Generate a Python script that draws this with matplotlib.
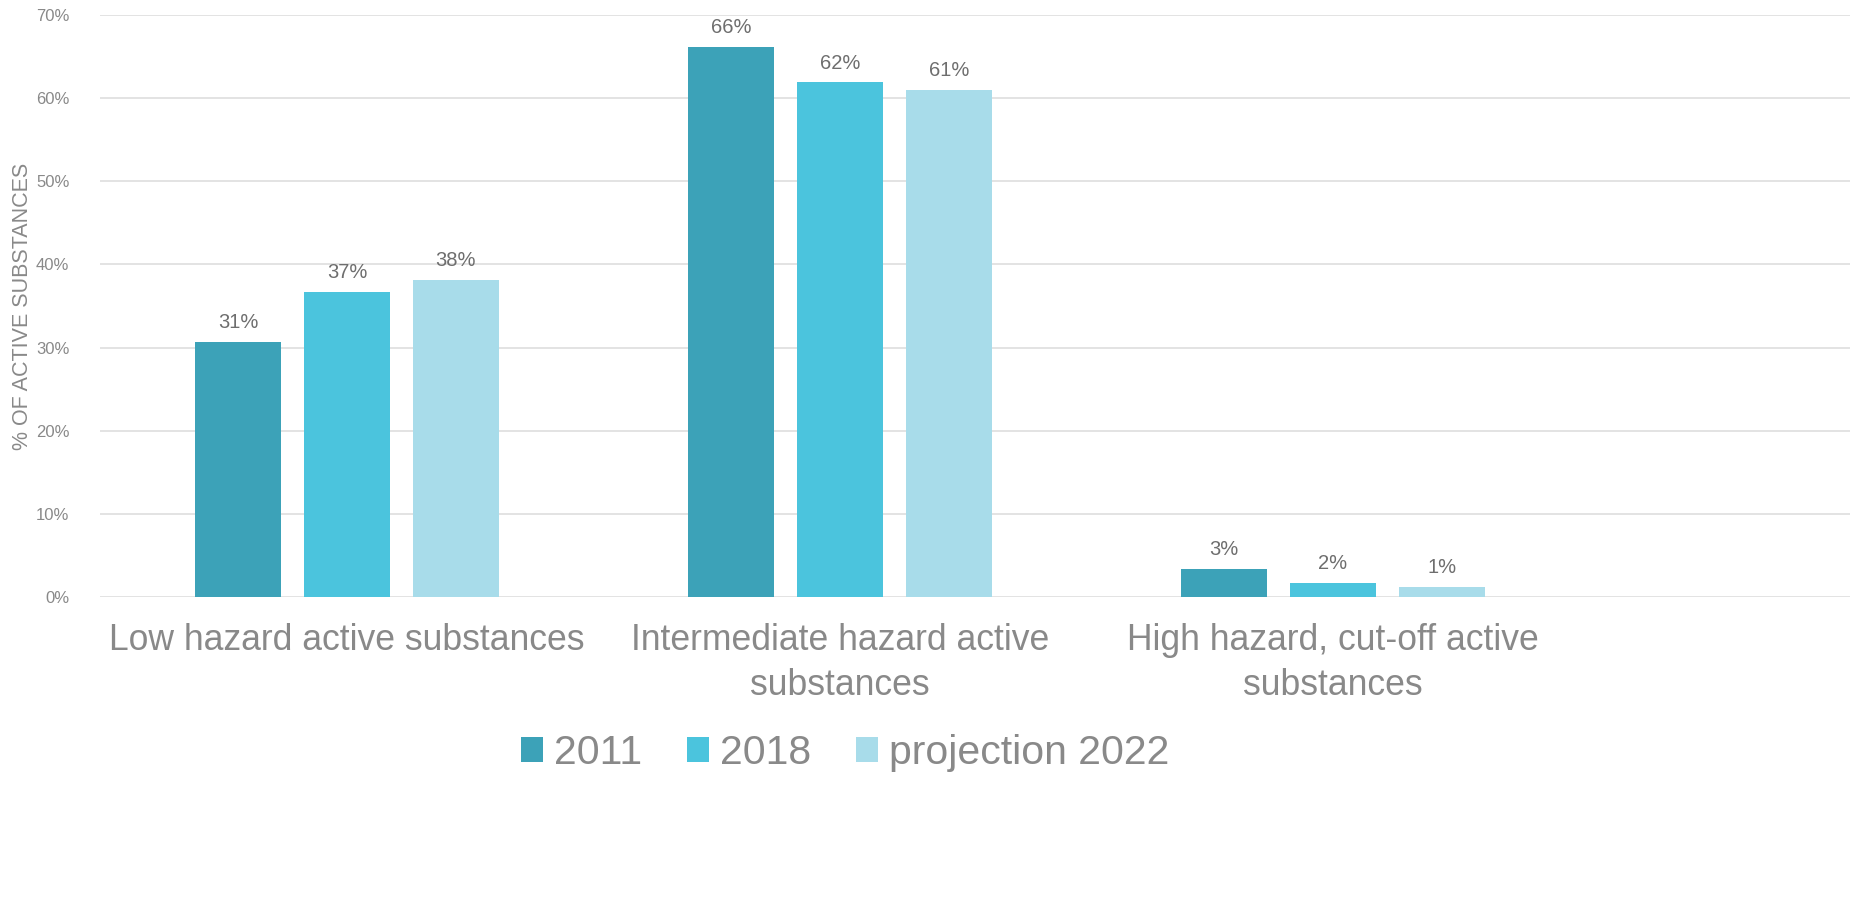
import numpy as np
import matplotlib
matplotlib.use("Agg")
import matplotlib.pyplot as plt

# values (share of active substances)
categories = ["Low hazard active substances",
              "Intermediate hazard active\nsubstances",
              "High hazard, cut-off active\nsubstances"]
series_names = ["2011", "2018", "projection 2022"]
vals_2011 = [0.307, 0.662, 0.034]
vals_2018 = [0.367, 0.619, 0.017]
vals_2022 = [0.381, 0.610, 0.012]
labels_2011 = ["31%", "66%", "3%"]
labels_2018 = ["37%", "62%", "2%"]
labels_2022 = ["38%", "61%", "1%"]
yticks = [0, 0.1, 0.2, 0.3, 0.4, 0.5, 0.6, 0.7]

colors = ["#3ca2b8", "#4bc4dd", "#a8dcea"]
grey = "#898989"
label_grey = "#6e6e6e"

plt.rcParams["font.family"] = ["Liberation Sans", "DejaVu Sans"]

fig = plt.figure(figsize=(18.72, 9.18), dpi=100)
ax = fig.add_axes([0.0534, 0.3497, 0.935, 0.634])

x = np.arange(len(categories))
width = 0.174
step = 0.221

series = [(vals_2011, labels_2011), (vals_2018, labels_2018), (vals_2022, labels_2022)]
for i, (vals, labs) in enumerate(series):
    xs = x + (i - 1) * step
    bars = ax.bar(xs, vals, width, color=colors[i], label=series_names[i], zorder=3)
    for b, lab in zip(bars, labs):
        ax.annotate(lab, (b.get_x() + b.get_width() / 2, b.get_height()),
                    xytext=(0, 7), textcoords="offset points",
                    ha="center", va="bottom", fontsize=14.5, color=label_grey)

ax.set_xlim(-0.501, 3.05)
ax.set_ylim(0, 0.7)
ax.set_yticks(yticks)
ax.set_yticklabels([f"{int(round(t * 100))}%" for t in yticks], fontsize=12, color=grey)
ax.set_xticks(x)
ax.set_xticklabels(categories, fontsize=25.6, color=grey, linespacing=1.35)
ax.tick_params(axis="x", length=0, pad=19)
ax.tick_params(axis="y", length=0, pad=22)
ax.yaxis.grid(True, color="#e0e0e0", linewidth=1.3, zorder=0)
for s in ax.spines.values():
    s.set_visible(False)
ax.set_ylabel("% OF ACTIVE SUBSTANCES", fontsize=15.5, color=grey, labelpad=2)

fig.legend(loc="center", bbox_to_anchor=(845 / 1872, 1 - 753 / 918), ncol=3,
           frameon=False, fontsize=29.5, handlelength=0.55, handleheight=0.55,
           handletextpad=0.25, columnspacing=1.1, labelcolor=grey)

fig.savefig("out.png", dpi=100)
